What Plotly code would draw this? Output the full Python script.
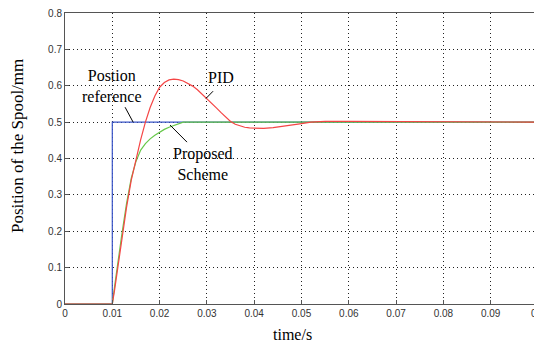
import plotly.graph_objects as go

ref_t = [0, 0.01, 0.01, 0.1]
ref_v = [0, 0, 0.5, 0.5]

prop_t = [0, 0.010, 0.0105, 0.011, 0.012, 0.013, 0.014, 0.015, 0.016, 0.017, 0.018, 0.019,
          0.020, 0.021, 0.022, 0.023, 0.024, 0.025, 0.1]
prop_v = [0, 0.0, 0.05, 0.10, 0.19, 0.275, 0.345, 0.392, 0.423, 0.441, 0.454, 0.464,
          0.473, 0.480, 0.486, 0.491, 0.496, 0.500, 0.500]

pid_t = [0, 0.010, 0.0105, 0.011, 0.012, 0.013, 0.014, 0.015, 0.016, 0.017, 0.018, 0.019,
         0.020, 0.021, 0.022, 0.023, 0.024, 0.025, 0.026, 0.027, 0.028, 0.029,
         0.030, 0.031, 0.032, 0.033, 0.034, 0.035, 0.036, 0.037, 0.038, 0.039,
         0.040, 0.041, 0.042, 0.044, 0.046, 0.048, 0.050, 0.052, 0.055, 0.060, 0.065,
         0.067, 0.070, 0.1]
pid_v = [0, 0.0, 0.040, 0.085, 0.180, 0.265, 0.340, 0.398, 0.452, 0.500, 0.540, 0.572,
         0.596, 0.609, 0.616, 0.618, 0.617, 0.613, 0.607, 0.599, 0.589, 0.577,
         0.565, 0.552, 0.539, 0.526, 0.513, 0.502, 0.494, 0.489, 0.486, 0.484,
         0.483, 0.483, 0.483, 0.485, 0.488, 0.492, 0.496, 0.500, 0.502, 0.502, 0.502,
         0.501, 0.500, 0.500]

x_ticks = [0, 0.01, 0.02, 0.03, 0.04, 0.05, 0.06, 0.07, 0.08, 0.09, 0.1]
x_labels = ["0", "0.01", "0.02", "0.03", "0.04", "0.05", "0.06", "0.07", "0.08", "0.09", "0.1"]
y_ticks = [0, 0.1, 0.2, 0.3, 0.4, 0.5, 0.6, 0.7, 0.8]
y_labels = ["0", "0.1", "0.2", "0.3", "0.4", "0.5", "0.6", "0.7", "0.8"]

fig = go.Figure()
fig.add_trace(go.Scatter(x=ref_t, y=ref_v, mode="lines", line=dict(color="#3a55c8", width=1.2), name="Position reference"))
fig.add_trace(go.Scatter(x=prop_t, y=prop_v, mode="lines", line=dict(color="#66c84a", width=1.2), name="Proposed Scheme"))
fig.add_trace(go.Scatter(x=pid_t, y=pid_v, mode="lines", line=dict(color="#f54545", width=1.2), name="PID"))

serif = "Liberation Serif, Times New Roman, serif"
ann_font = dict(family=serif, size=16, color="black")

# pointer lines
lines = [
    ((0.0127, 0.541), (0.0144, 0.500)),
    ((0.0313, 0.585), (0.0298, 0.565)),
    ((0.0222, 0.492), (0.0258, 0.445)),
]
for (x0, y0), (x1, y1) in lines:
    fig.add_shape(type="line", x0=x0, y0=y0, x1=x1, y1=y1, xref="x", yref="y",
                  line=dict(color="black", width=1))

fig.add_annotation(x=0.0100, y=0.598, text="Postion<br>reference", showarrow=False, font=ann_font, align="center")
fig.add_annotation(x=0.0330, y=0.622, text="PID", showarrow=False, font=ann_font)
fig.add_annotation(x=0.0292, y=0.386, text="Proposed<br>Scheme", showarrow=False, font=ann_font, align="center")

# axis titles
fig.add_annotation(xref="paper", yref="paper", x=0.482, y=0, yshift=-30, xanchor="center", yanchor="middle",
                   text="time/s", showarrow=False, font=dict(family=serif, size=16, color="black"))
fig.add_annotation(xref="paper", yref="paper", x=0, xshift=-47, y=0.543, xanchor="center", yanchor="middle",
                   text="Position of the Spool/mm", textangle=-90, showarrow=False,
                   font=dict(family=serif, size=17, color="black"))

axis_common = dict(showline=True, linecolor="#555555", linewidth=1, mirror=True,
                   ticks="inside", ticklen=4, tickcolor="#555555",
                   showgrid=True, gridcolor="#222222", griddash="1px,3px", gridwidth=1,
                   zeroline=False, automargin=False, ticklabeloverflow="allow",
                   tickfont=dict(family="Liberation Sans, Arial, sans-serif", size=10, color="#333333"))

fig.update_layout(
    width=534, height=335,
    margin=dict(l=57, r=4, t=5, b=39),
    paper_bgcolor="white", plot_bgcolor="white",
    showlegend=False,
    xaxis=dict(range=[0, 0.1], tickvals=x_ticks, ticktext=x_labels, **axis_common),
    yaxis=dict(range=[0, 0.8], tickvals=y_ticks, ticktext=y_labels, **axis_common),
)

fig.write_html("out.html")
